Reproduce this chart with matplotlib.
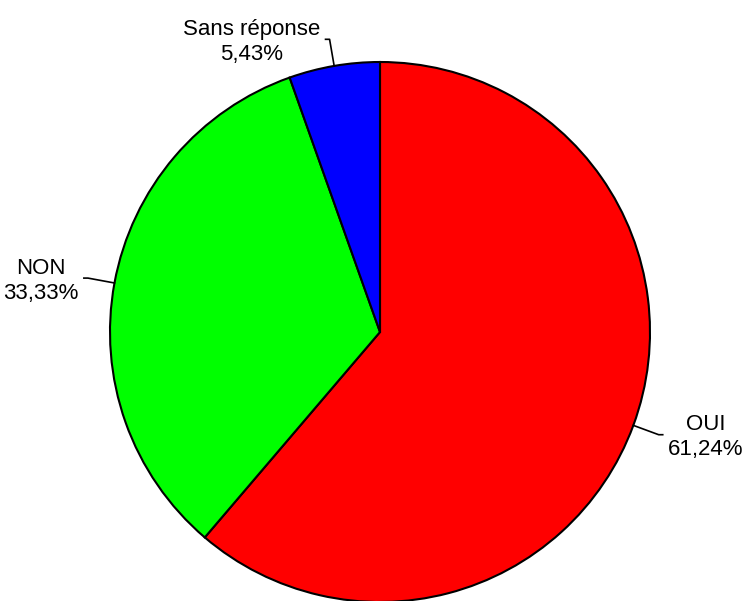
import numpy as np
import matplotlib.pyplot as plt

labels = ['OUI', 'NON', 'Sans réponse']
values = [61.24, 33.33, 5.43]
colors = ['#ff0000', '#00ff00', '#0000ff']
pct_text = ['61,24%', '33,33%', '5,43%']

plt.rcParams['font.family'] = ['Liberation Sans', 'DejaVu Sans']

fig = plt.figure(figsize=(7.45, 6.01), dpi=100)
ax = fig.add_axes([0, 0, 1, 1])

wedges, _ = ax.pie(values, colors=colors, startangle=90, counterclock=False,
                   wedgeprops=dict(edgecolor='black', linewidth=1.5))

# pie centre at (380, 332) px, radius 270 px
ax.set_xlim(-380 / 270, (745 - 380) / 270)
ax.set_ylim(-(601 - 332) / 270, 332 / 270)
ax.set_aspect('auto')
ax.axis('off')

r_out = 1.1
for w, lab, pt in zip(wedges, labels, pct_text):
    ang = np.deg2rad((w.theta1 + w.theta2) / 2)
    x0, y0 = np.cos(ang), np.sin(ang)
    x1, y1 = r_out * x0, r_out * y0
    side = 1 if x0 > 0 else -1
    x2 = x1 + side * 0.015
    ax.plot([x0, x1, x2], [y0, y1, y1], color='black', lw=1.2)
    ax.text(x2 + side * 0.02, y1 - 0.01, lab + '\n' + pt,
            ha='left' if side > 0 else 'right', va='center',
            multialignment='center', fontsize=16, linespacing=1.25)

fig.savefig('out.png', dpi=100)
